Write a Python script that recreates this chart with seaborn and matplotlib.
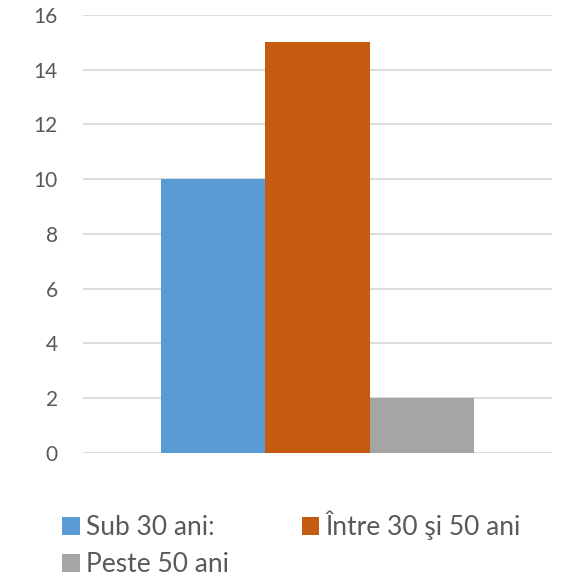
import matplotlib
matplotlib.use("Agg")
import matplotlib.pyplot as plt
from matplotlib.patches import Patch
import pandas as pd
import seaborn as sns

# Number of respondents per age group
categorii = ["Sub 30 ani:", "Între 30 şi 50 ani", "Peste 50 ani"]
valori = [10, 15, 2]
culori = ["#5B9BD5", "#C55A11", "#A5A5A5"]
y_ticks = [0, 2, 4, 6, 8, 10, 12, 14, 16]

sns.set_theme(style="white")
plt.rcParams["font.family"] = ["Lato", "DejaVu Sans"]

df = pd.DataFrame({"grup": ["Vârstă"] * len(categorii),
                   "categorie": categorii,
                   "valoare": valori})

fig = plt.figure(figsize=(5.75, 5.81), dpi=100)
ax = fig.add_axes([0.1443, 0.2203, 0.816, 0.754])

sns.barplot(data=df, x="grup", y="valoare", hue="categorie",
            hue_order=categorii, palette=culori, width=0.667, gap=0,
            saturation=1, legend=False, ax=ax, zorder=3,
            edgecolor="none", linewidth=0)

ax.set_ylim(0, 16)
ax.set_xlim(-0.5, 0.5)
ax.set_yticks(y_ticks)
ax.set_yticklabels([str(t) for t in y_ticks])
ax.set_xticks([])
ax.set_xlabel("")
ax.set_ylabel("")
ax.yaxis.grid(True, color="#D9D9D9", linewidth=1.3, zorder=0)
ax.set_axisbelow(True)
for s in ax.spines.values():
    s.set_visible(False)
ax.tick_params(axis="y", length=0, pad=18, labelsize=15, labelcolor="#595959")

# Legend laid out row by row: matplotlib fills columns first, so reorder
handles = [Patch(facecolor=c, edgecolor="none") for c in culori]
ordine = [0, 2, 1]
fig.legend([handles[i] for i in ordine], [categorii[i] for i in ordine],
           loc="upper left", bbox_to_anchor=(0.108, 0.121),
           ncol=2, frameon=False, fontsize=19, labelcolor="#595959",
           handlelength=0.66, handleheight=0.66, handletextpad=0.25,
           columnspacing=2.75, labelspacing=0.45, borderpad=0, borderaxespad=0)

fig.savefig("out.png", dpi=100)
